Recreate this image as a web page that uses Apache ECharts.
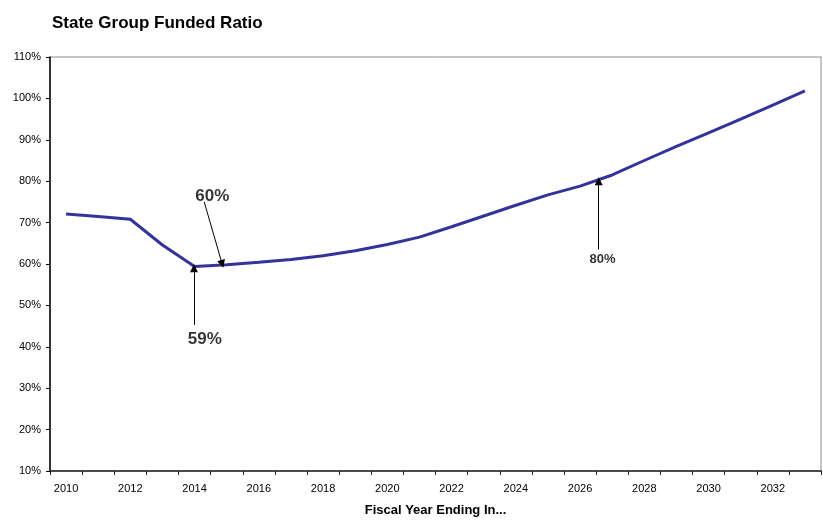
<!DOCTYPE html>
<html>
<head>
<meta charset="utf-8">
<title>State Group Funded Ratio</title>
<script src="https://cdn.jsdelivr.net/npm/echarts@6/dist/echarts.min.js"></script>
<style>
  html, body { margin: 0; padding: 0; background: #ffffff; }
  #chart { width: 823px; height: 520px; }
</style>
</head>
<body>
<div id="chart"></div>
<script>
// Fiscal years on the category axis
const years = ['2010','2011','2012','2013','2014','2015','2016','2017','2018','2019','2020','2021',
               '2022','2023','2024','2025','2026','2027','2028','2029','2030','2031','2032','2033'];

// Funded ratio (%) for each fiscal year
const fundedRatio = [72.1, 71.5, 70.8, 64.6, 59.4, 59.8, 60.4, 61.1, 62.0, 63.2, 64.7, 66.5,
                     69.0, 71.6, 74.2, 76.7, 78.8, 81.5, 85.0, 88.4, 91.7, 95.0, 98.4, 101.8];

// Y axis range and step (%)
const yMin = 10, yMax = 110, yStep = 10;

// Callouts: the year and ratio each arrow points at
const calloutYear  = [2013.98, 2014.86, 2026.58];
const calloutValue = [59, 60, 80];

// Where each arrow starts and where its text sits (year, %), plus text size
const calloutLayout = [
  { tail: [2013.98, 45.3], text: [2014.32, 41.9], size: 17 },
  { tail: [2014.30, 75.0], text: [2014.55, 76.4], size: 17 },
  { tail: [2026.58, 63.5], text: [2026.70, 61.0], size: 13 }
];

const FONT = '"Liberation Sans", Arial, Helvetica, sans-serif';

const arrowData = calloutYear.map((y, i) => ({
  coords: [calloutLayout[i].tail, [y, calloutValue[i]]]
}));

const labelData = calloutValue.map((v, i) => ({
  value: calloutLayout[i].text,
  name: Math.round(v) + '%',
  label: { fontSize: calloutLayout[i].size }
}));

const chart = echarts.init(document.getElementById('chart'), null, { renderer: 'canvas' });

chart.setOption({
  animation: false,
  backgroundColor: '#ffffff',
  title: {
    text: 'State Group Funded Ratio',
    left: 47,
    top: 10,
    textStyle: { fontFamily: FONT, fontSize: 17, fontWeight: 'bold', color: '#000000' }
  },
  grid: {
    left: 50, right: 2, top: 57, bottom: 49,
    outerBoundsMode: 'none',
    containLabel: false,
    show: true, borderColor: '#8c8c8c', borderWidth: 1, backgroundColor: '#ffffff'
  },
  xAxis: [
    {
      type: 'category',
      data: years,
      boundaryGap: true,
      name: 'Fiscal Year Ending In...',
      nameLocation: 'middle',
      nameGap: 33,
      nameTextStyle: { fontFamily: FONT, fontSize: 13, fontWeight: 'bold', color: '#000000' },
      axisLine: { lineStyle: { color: '#222222', width: 1.5 } },
      axisTick: { show: true, interval: 0, length: 4, lineStyle: { color: '#222222' } },
      axisLabel: { interval: 1, margin: 12, fontFamily: FONT, fontSize: 11, color: '#000000' },
      splitLine: { show: false }
    },
    {
      type: 'value',
      min: 2009.5,
      max: 2033.5,
      show: false,
      splitLine: { show: false }
    }
  ],
  yAxis: {
    type: 'value',
    min: yMin,
    max: yMax,
    interval: yStep,
    axisLine: { show: true, lineStyle: { color: '#000000', width: 1.5 } },
    axisTick: { show: true, length: 4, lineStyle: { color: '#000000' } },
    axisLabel: { margin: 9, fontFamily: FONT, fontSize: 11, color: '#000000', formatter: '{value}%' },
    splitLine: { show: false }
  },
  series: [
    {
      name: 'Funded Ratio',
      type: 'line',
      data: fundedRatio,
      symbol: 'none',
      smooth: false,
      lineStyle: { color: '#333399', width: 3 },
      z: 3
    },
    {
      type: 'lines',
      coordinateSystem: 'cartesian2d',
      xAxisIndex: 1,
      yAxisIndex: 0,
      data: arrowData,
      symbol: ['none', 'triangle'],
      symbolSize: 8,
      lineStyle: { color: '#000000', width: 1, opacity: 1 },
      z: 4
    },
    {
      type: 'scatter',
      xAxisIndex: 1,
      yAxisIndex: 0,
      data: labelData,
      symbolSize: 1,
      itemStyle: { color: 'rgba(0,0,0,0)' },
      label: {
        show: true,
        position: 'inside',
        formatter: p => p.name,
        fontFamily: FONT,
        fontWeight: 'bold',
        color: '#000000',
        textBorderWidth: 0
      },
      z: 5
    }
  ]
});
</script>
</body>
</html>
